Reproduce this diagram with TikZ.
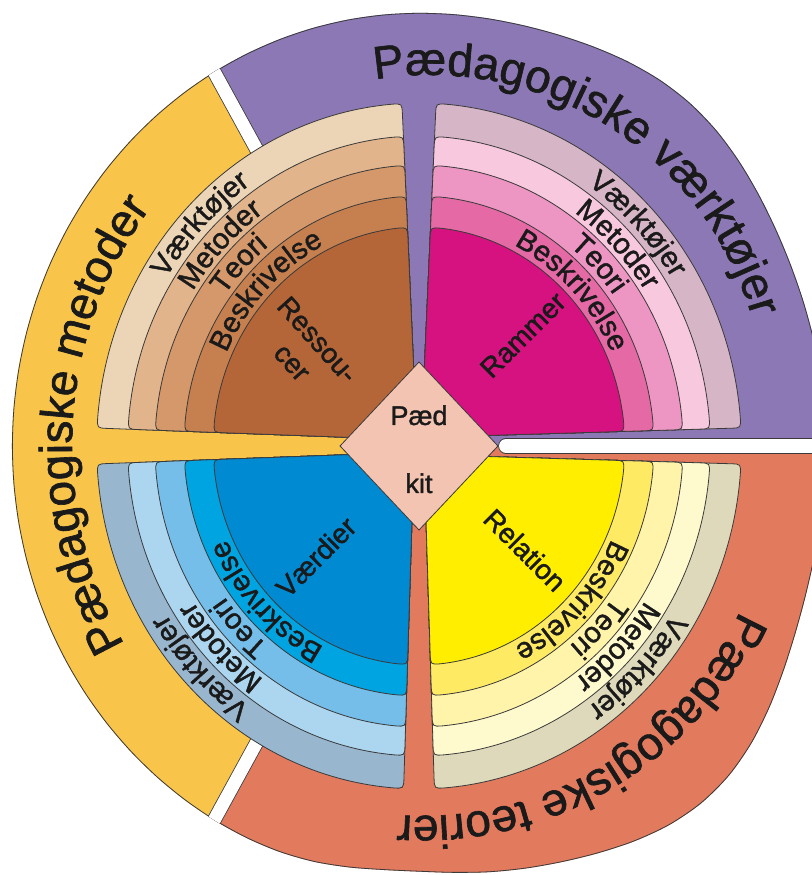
\documentclass[tikz,border=0pt]{standalone}
\usepackage{fontspec}
\setmainfont{Liberation Sans}
\newfontfamily\lblfam{Liberation Sans}[FakeBold=1.4]
\usetikzlibrary{decorations.text,calc}
\definecolor{bandP}{HTML}{8C78B4}
\definecolor{bandY}{HTML}{F8C44A}
\definecolor{bandR}{HTML}{E27A5E}
\definecolor{dmd}{HTML}{F4C4B2}
\definecolor{br1}{HTML}{ECD5B6}
\definecolor{br2}{HTML}{E2B48C}
\definecolor{br3}{HTML}{D4986A}
\definecolor{br4}{HTML}{C68050}
\definecolor{br5}{HTML}{B46638}
\definecolor{mg1}{HTML}{D6B6C6}
\definecolor{mg2}{HTML}{F8C8DE}
\definecolor{mg3}{HTML}{EE96C3}
\definecolor{mg4}{HTML}{E469A5}
\definecolor{mg5}{HTML}{D61280}
\definecolor{yl1}{HTML}{DDD9BA}
\definecolor{yl2}{HTML}{FFFACD}
\definecolor{yl3}{HTML}{FFF4AA}
\definecolor{yl4}{HTML}{FFEA64}
\definecolor{yl5}{HTML}{FFEE00}
\definecolor{bl1}{HTML}{98B6CE}
\definecolor{bl2}{HTML}{ACD6F0}
\definecolor{bl3}{HTML}{76BEEA}
\definecolor{bl4}{HTML}{00A4E0}
\definecolor{bl5}{HTML}{008AD2}
\definecolor{ink}{HTML}{1A1A1A}
\definecolor{edgec}{HTML}{3A3A3A}

\newcommand\ringfnt{\lblfam\fontsize{29}{34}\selectfont}
\newcommand\bigfnt{\lblfam\fontsize{46}{55}\selectfont}
\newcommand\innerfnt{\lblfam\fontsize{28}{34}\selectfont}

\tikzset{
  declare function={rfun(\t)=433+15*exp(-((\t-50)/18)^2)+34*exp(-((\t+48)/20)^2)-8*exp(-((\t+92)/12)^2);},
  ringline/.style={draw=edgec, line width=0.8pt},
  gapl/.style={draw=edgec, line width=0.8pt, double=white, double distance=13pt},
  inlabel/.style={font=\innerfnt, text=ink, inner sep=0pt},
  outerpath/.style={insert path={plot[smooth cycle, variable=\t, samples at={-180,-175,...,175}]
    ({419+0.94*rfun(\t)*cos(\t)},{429+rfun(\t)*sin(\t)})}}
}

% #1 a, #2 cA, #3 dA, #4 cB, #5 dB, #6 R, #7 colour
\newcommand\ringshape[7]{%
  \pgfmathsetmacro\rsRi{#6-11}%
  \pgfmathsetmacro\rsAo{#1+#3+asin(#2*cos(#3)/#6)}%
  \pgfmathsetmacro\rsAi{#1+#3+asin(#2*cos(#3)/\rsRi)}%
  \pgfmathsetmacro\rsAs{#1+#3+asin(#2*cos(#3)/20)}%
  \pgfmathsetmacro\rsBo{#1+90-#5-asin(#4*cos(#5)/#6)}%
  \pgfmathsetmacro\rsBi{#1+90-#5-asin(#4*cos(#5)/\rsRi)}%
  \pgfmathsetmacro\rsBs{#1+90-#5-asin(#4*cos(#5)/20)}%
  \pgfmathsetmacro\rsAe{\rsAo+11/#6*57.2958}%
  \pgfmathsetmacro\rsBe{\rsBo-11/#6*57.2958}%
  \filldraw[fill=#7, ringline] (\rsAs:20) -- (\rsAi:\rsRi)
    .. controls (\rsAo:#6) .. (\rsAe:#6)
    arc[start angle=\rsAe, end angle=\rsBe, radius=#6]
    .. controls (\rsBo:#6) .. (\rsBi:\rsRi) -- (\rsBs:20) -- cycle;}

\newcommand\quadrant[6]{%
  \ringshape{#1}{#2}{#3}{#4}{#5}{343}{#61}%
  \ringshape{#1}{#2}{#3}{#4}{#5}{310}{#62}%
  \ringshape{#1}{#2}{#3}{#4}{#5}{281}{#63}%
  \ringshape{#1}{#2}{#3}{#4}{#5}{250}{#64}%
  \ringshape{#1}{#2}{#3}{#4}{#5}{219}{#65}}

% #1 centre angle, #2 baseline radius, #3 text
\newcommand\ringtext[3]{%
  \path[decorate, decoration={text along path, text align=center,
      text color=ink, text={|\ringfnt|#3}}]
    ($(O)+({0.94*#2*cos(#1+60)},{#2*sin(#1+60)})$)
    arc[start angle={#1+60}, end angle={#1-60}, x radius={0.94*#2}, y radius=#2];}

\newcommand\ringlabels[1]{%
  \ringtext{#1}{317}{Værktøjer}%
  \ringtext{#1}{286}{Metoder}%
  \ringtext{#1}{256}{Teori}%
  \ringtext{#1}{225}{Beskrivelse}}

% #1 centre point, #2 radius, #3 centre angle, #4 text
\newcommand\bandtext[4]{%
  \path[decorate, decoration={text along path, text align=center,
      text color=ink, text={|\bigfnt|#4}}]
    ($#1+({#3+60}:#2)$) arc[start angle={#3+60}, end angle={#3-60}, radius=#2];}

\begin{document}
\begin{tikzpicture}[x=1pt,y=1pt]
\useasboundingbox (0,0) rectangle (811,875);
\fill[white] (0,0) rectangle (811,875);
\coordinate (O) at (419,429);

% outer bands
\begin{scope}
  \clip[outerpath];
  \fill[bandP] (O) -- ($(O)+(-0.5:700)$) -- ($(O)+(40:700)$) -- ($(O)+(80:700)$) -- ($(O)+(119.2:700)$) -- cycle;
  \fill[bandY] (O) -- ($(O)+(118.2:700)$) -- ($(O)+(150:700)$) -- ($(O)+(180:700)$) -- ($(O)+(210:700)$) -- ($(O)+(241.8:700)$) -- cycle;
  \fill[bandR] (O) -- ($(O)+(240.8:700)$) -- ($(O)+(280:700)$) -- ($(O)+(320:700)$) -- ($(O)+(360.5:700)$) -- cycle;
  \draw[line width=1.6pt, draw=edgec, outerpath];
  \draw[gapl] (O) ++(118.7:110) -- ++(118.7:520);
  \draw[gapl] (O) ++(241.3:110) -- ++(241.3:520);
  \draw[gapl, double distance=14pt, line cap=round] (506,429) -- (900,429);
\end{scope}

% quadrants and centre
\begin{scope}[shift={(O)}, xscale=0.94]
  \quadrant{0}{8.5}{1.6}{2}{2.7}{mg}
  \quadrant{90}{2}{2.7}{6}{2}{br}
  \quadrant{180}{6}{2}{5}{1.9}{bl}
  \quadrant{270}{5}{1.9}{8.5}{1.6}{yl}
  \filldraw[fill=dmd, ringline] (0,84) -- (-84,0) -- (0,-84) -- (84,0) -- cycle;
\end{scope}

% centre text
\node[font=\lblfam\fontsize{27}{32}\selectfont, text=ink, anchor=base, inner sep=0pt] (paed) at (419,450) {Pæd};
\node[font=\lblfam\fontsize{27}{32}\selectfont, text=ink, anchor=base, inner sep=0pt] (kit) at (419,382) {kit};

% inner labels
\node[inlabel, rotate=45] (rammer) at (523,540) {Rammer};
\node[inlabel, rotate=-45] (relation) at (525,325) {Relation};
\node[inlabel, rotate=45] (vaerdier) at (316,318) {Værdier};
\node[inlabel, rotate=-48, align=center] (ressourcer) at (305,524) {Ressou-\\cer};

% ring labels
\ringlabels{135}
\ringlabels{45}
\ringlabels{-45}
\ringlabels{225}

% band labels
\bandtext{(430,465)}{335}{57.7}{Pædagogiske værktøjer}
\bandtext{(422,408)}{349}{-59.2}{Pædagogiske teorier}
\bandtext{(473,429)}{401}{176.6}{Pædagogiske metoder}
\end{tikzpicture}
\end{document}
